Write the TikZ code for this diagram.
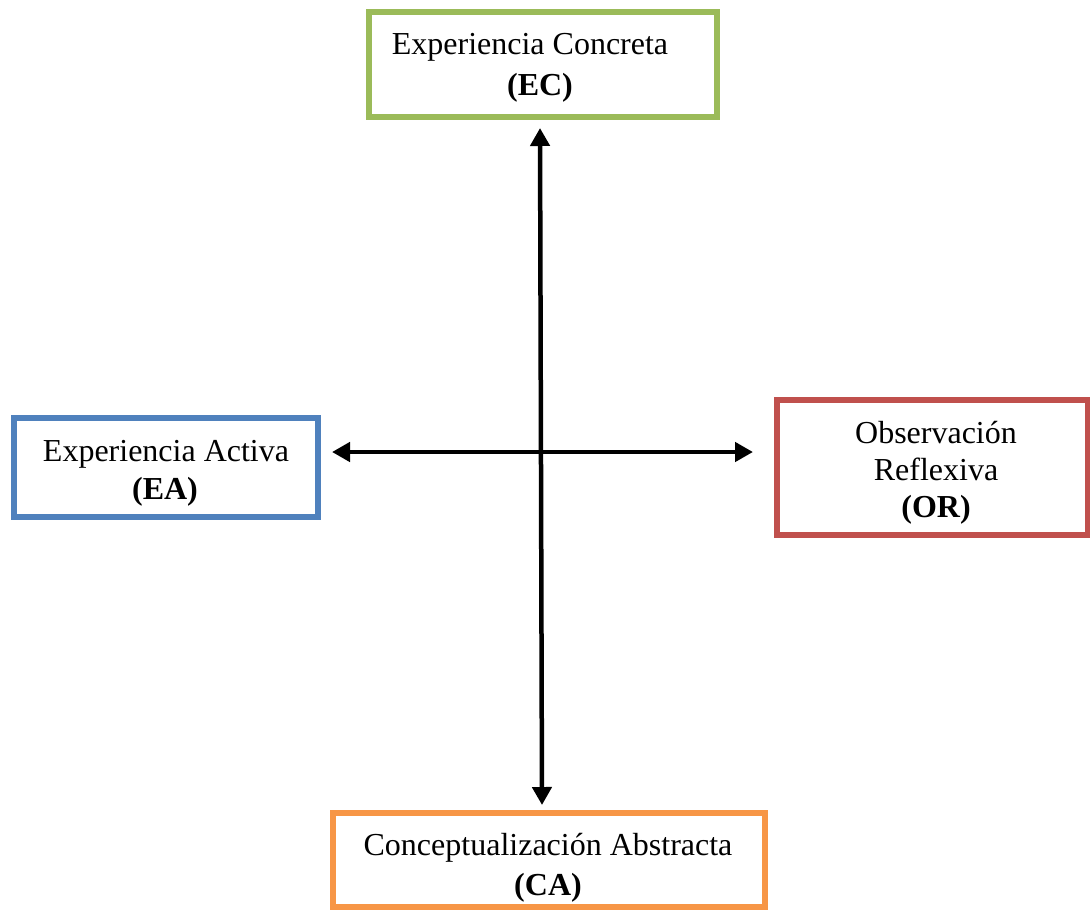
\documentclass[tikz,border=0pt]{standalone}
\usepackage{fontspec}
\setmainfont{Liberation Serif}
\usetikzlibrary{arrows.meta}
\definecolor{ecgreen}{HTML}{9BBB59}
\definecolor{eablue}{HTML}{4F81BD}
\definecolor{orred}{HTML}{C0504D}
\definecolor{caorange}{HTML}{F79646}
\tikzset{
  box/.style={draw=#1, line width=6pt, rectangle, inner sep=0pt, fill=white},
  lbl/.style={anchor=base, inner sep=0pt, font=\fontsize{32}{38}\selectfont},
  axis/.style={line width=4.5pt, {Triangle[length=18pt,width=19pt]}-{Triangle[length=18pt,width=19pt]}},
}
\begin{document}
\begin{tikzpicture}[x=1pt, y=-1pt]
  \useasboundingbox (0,0) rectangle (1090,911);
  \fill[white] (0,0) rectangle (1090,911);

  % the four stages of the cycle
  \node[box=ecgreen, minimum width=348pt, minimum height=105pt] (ec) at (543,64.5) {};
  \node[box=eablue, minimum width=304.5pt, minimum height=99pt] (ea) at (165.75,467.5) {};
  \node[box=orred, minimum width=310.5pt, minimum height=135pt] (or) at (932.25,467.5) {};
  \node[box=caorange, minimum width=432.5pt, minimum height=94.5pt] (ca) at (548.75,859.75) {};

  % labels
  \node[lbl] (ec1) at (530,54) {Experiencia Concreta};
  \node[lbl] (ec2) at (540,95) {\textbf{(EC)}};
  \node[lbl] (ea1) at (166,461) {Experiencia Activa};
  \node[lbl] (ea2) at (165,499) {\textbf{(EA)}};
  \node[lbl] (or1) at (936,443) {Observación};
  \node[lbl] (or2) at (936,480) {Reflexiva};
  \node[lbl] (or3) at (936,517) {\textbf{(OR)}};
  \node[lbl] (ca1) at (548,855) {Conceptualización Abstracta};
  \node[lbl] (ca2) at (548,895) {\textbf{(CA)}};

  % arrow ends of the two axes
  \coordinate (vtop) at (540,128);
  \coordinate (vbot) at (542,805);
  \coordinate (hleft) at (332,452);
  \coordinate (hright) at (753,452);

  \draw[axis] (vtop) -- (vbot);
  \draw[axis] (hleft) -- (hright);
\end{tikzpicture}
\end{document}
